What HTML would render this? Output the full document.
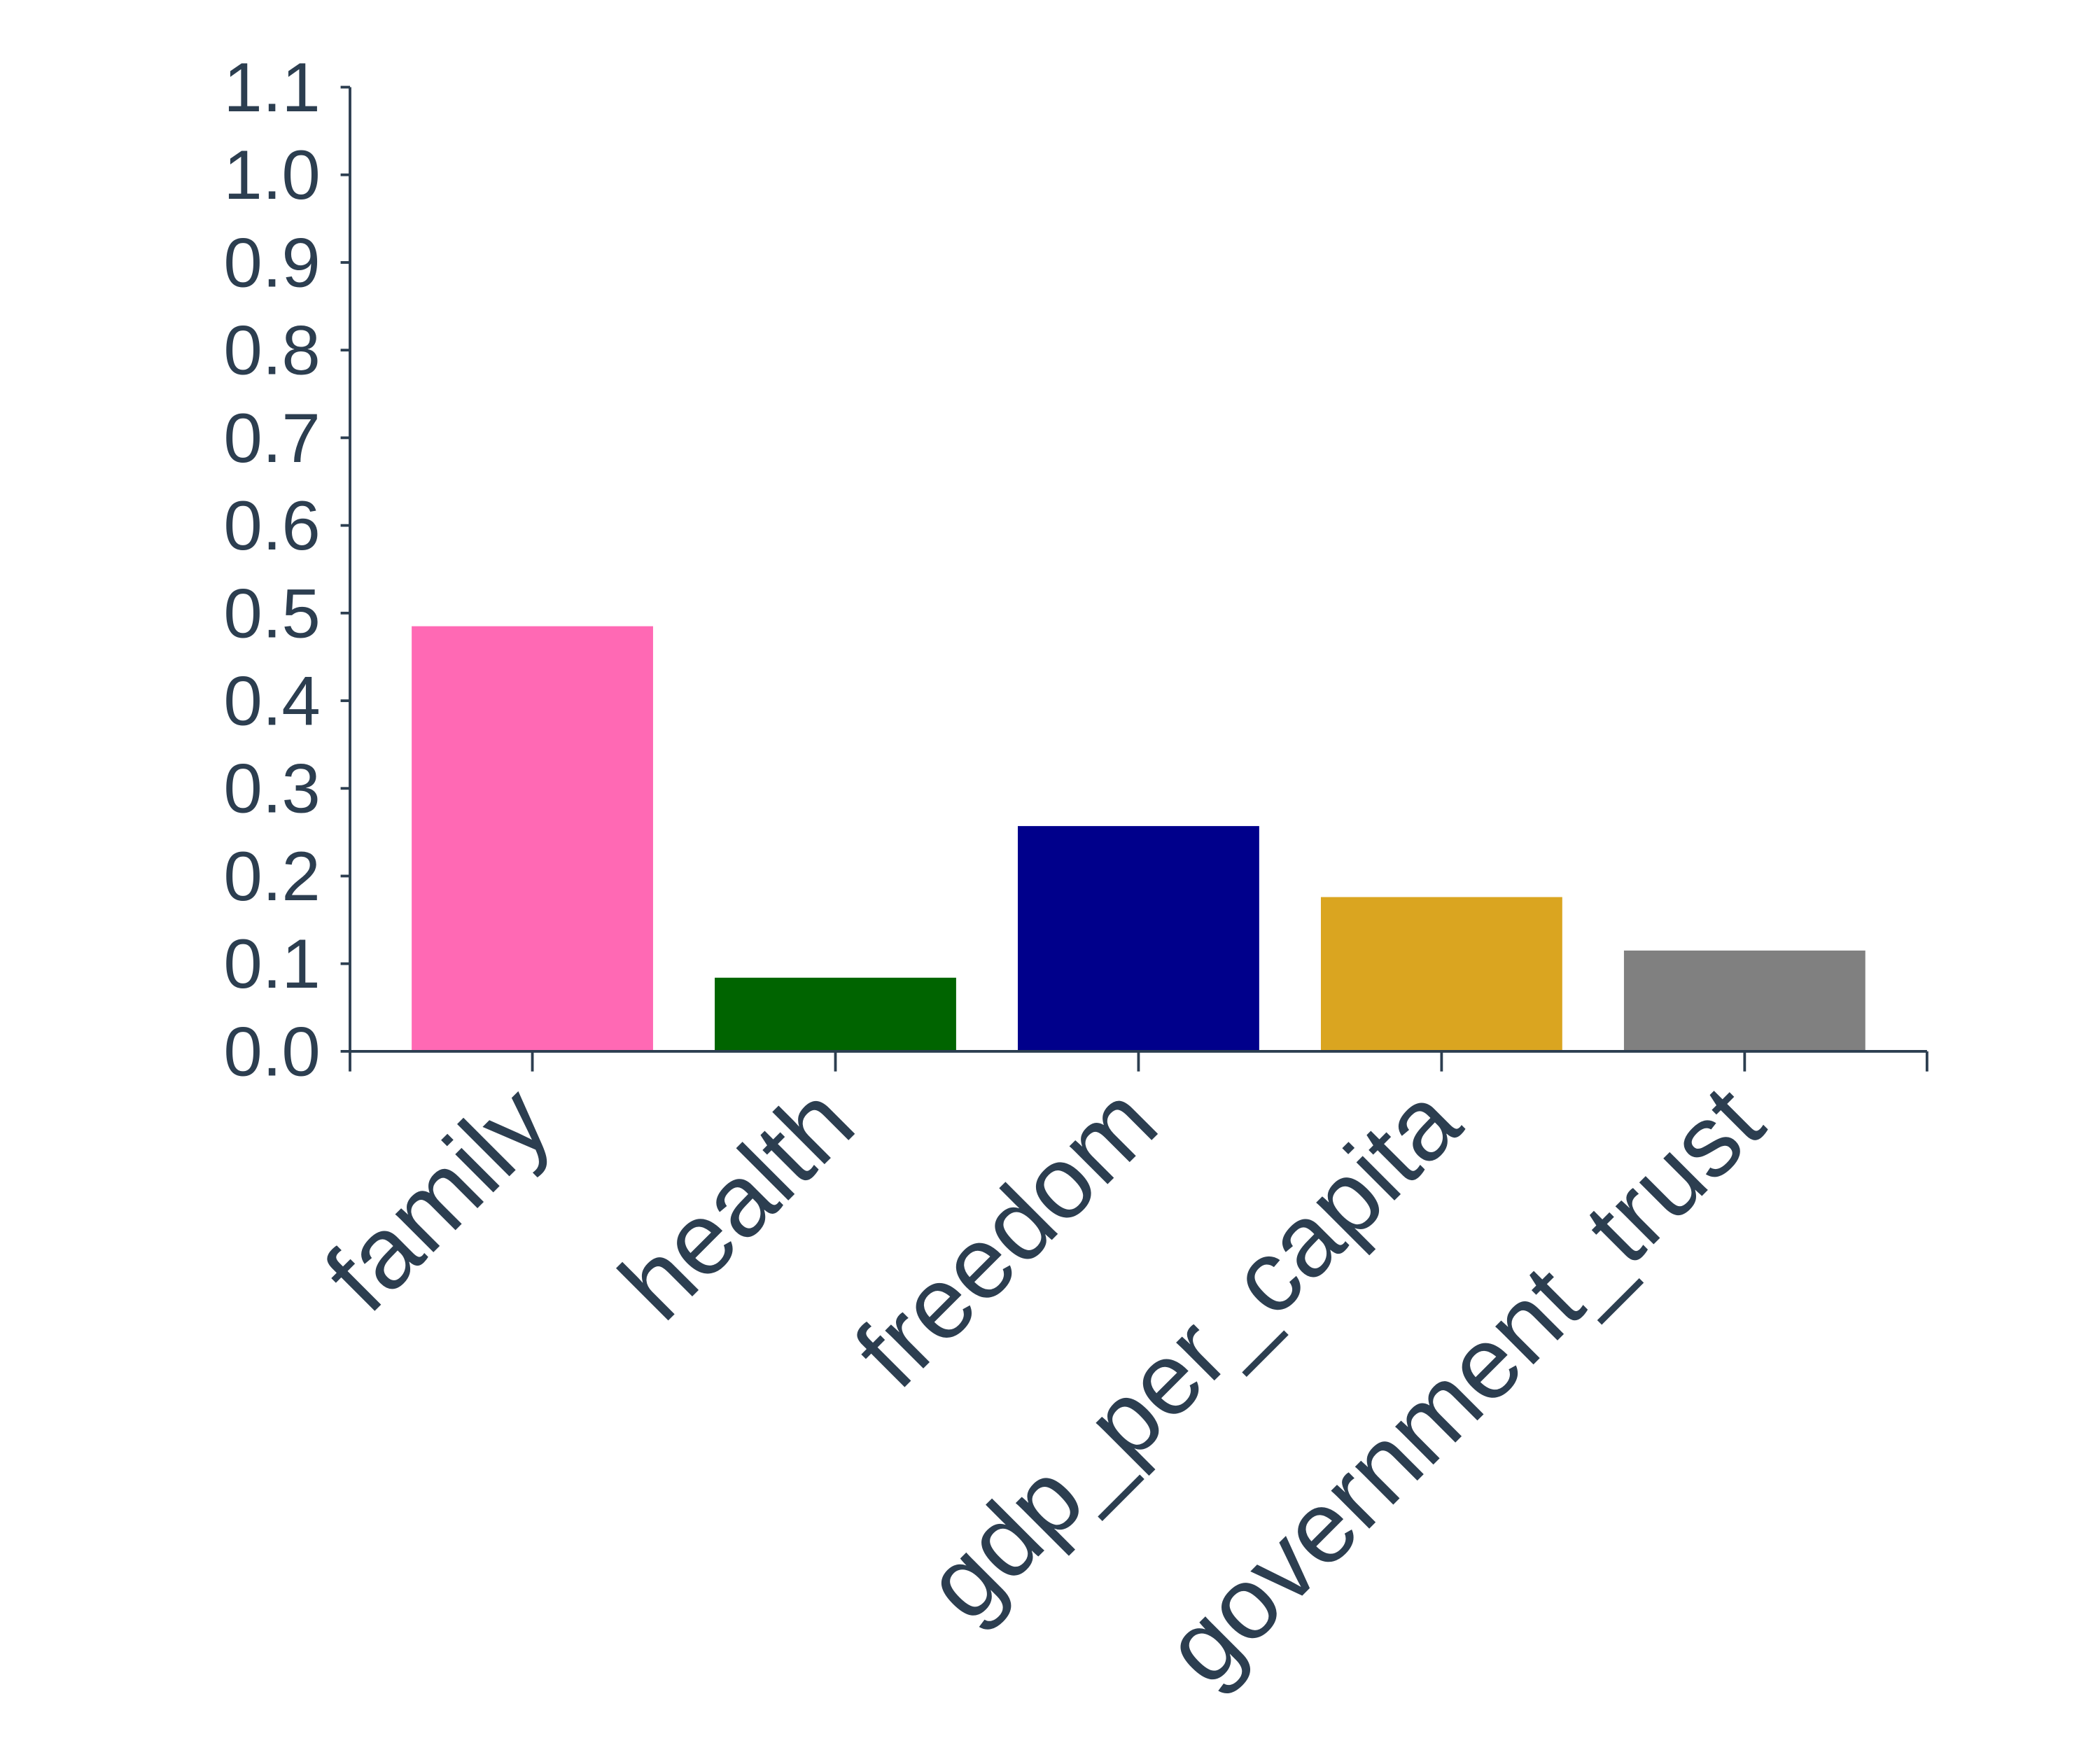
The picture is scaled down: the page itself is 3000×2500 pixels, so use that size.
<!DOCTYPE html>
<html><head><meta charset="utf-8"><style>html,body{margin:0;padding:0;background:#fff}svg{display:block}</style></head>
<body>
<svg width="3000" height="2500" viewBox="0 0 1566 1305" preserveAspectRatio="none" xmlns="http://www.w3.org/2000/svg" font-family="Liberation Sans, sans-serif">
<g id="chart"></g>
</svg>
<script>
const categories = ["family","health","freedom","gdp_per_capita","government_trust"];
const values = [0.485, 0.084, 0.257, 0.176, 0.115];
const colors = ["#ff69b4","#006400","#00008b","#daa520","#808080"];
const yTicks = [0,0.1,0.2,0.3,0.4,0.5,0.6,0.7,0.8,0.9,1.0,1.1];
const NS="http://www.w3.org/2000/svg";
const g=document.getElementById('chart');
const x0=261,x1=1437,yB=784,yT=65,yMax=1.1;
const band=226,pad=23,barW=180;
const y=v=>yB-(v/yMax)*(yB-yT);
const xc=i=>x0+pad+band*i+band/2;
const ink="#2c3e50";
function mk(t,a){const e=document.createElementNS(NS,t);for(const k in a)e.setAttribute(k,a[k]);g.appendChild(e);return e;}
values.forEach((v,i)=>{
  const r=mk('rect',{x:xc(i)-barW/2,y:y(v),width:barW,height:yB-y(v),fill:colors[i]});
  
  
});
const ya=mk('line',{x1:x0,y1:yT,x2:x0,y2:yB,stroke:ink,'stroke-width':2});


const xa=mk('line',{x1:x0,y1:yB,x2:x1,y2:yB,stroke:ink,'stroke-width':2});


mk('line',{x1:x0,y1:yB,x2:x0,y2:yB+15,stroke:ink,'stroke-width':2});
mk('line',{x1:x1,y1:yB,x2:x1,y2:yB+15,stroke:ink,'stroke-width':2});
yTicks.forEach(t=>{
  mk('line',{x1:x0-7,y1:y(t),x2:x0,y2:y(t),stroke:ink,'stroke-width':2});
  const tx=mk('text',{x:x0-22,y:y(t)+18,'text-anchor':'end','font-size':52,fill:ink});
  tx.textContent=t.toFixed(1);
  
  
});
categories.forEach((c,i)=>{
  const cx=xc(i);
  mk('line',{x1:cx,y1:yB,x2:cx,y2:yB+15,stroke:ink,'stroke-width':2});
  const tx=mk('text',{x:0,y:0,'text-anchor':'end','font-size':76,fill:ink,transform:`translate(${cx+18},${yB+58}) rotate(-45)`});
  tx.textContent=c;
  
  
});
</script>
</body></html>
